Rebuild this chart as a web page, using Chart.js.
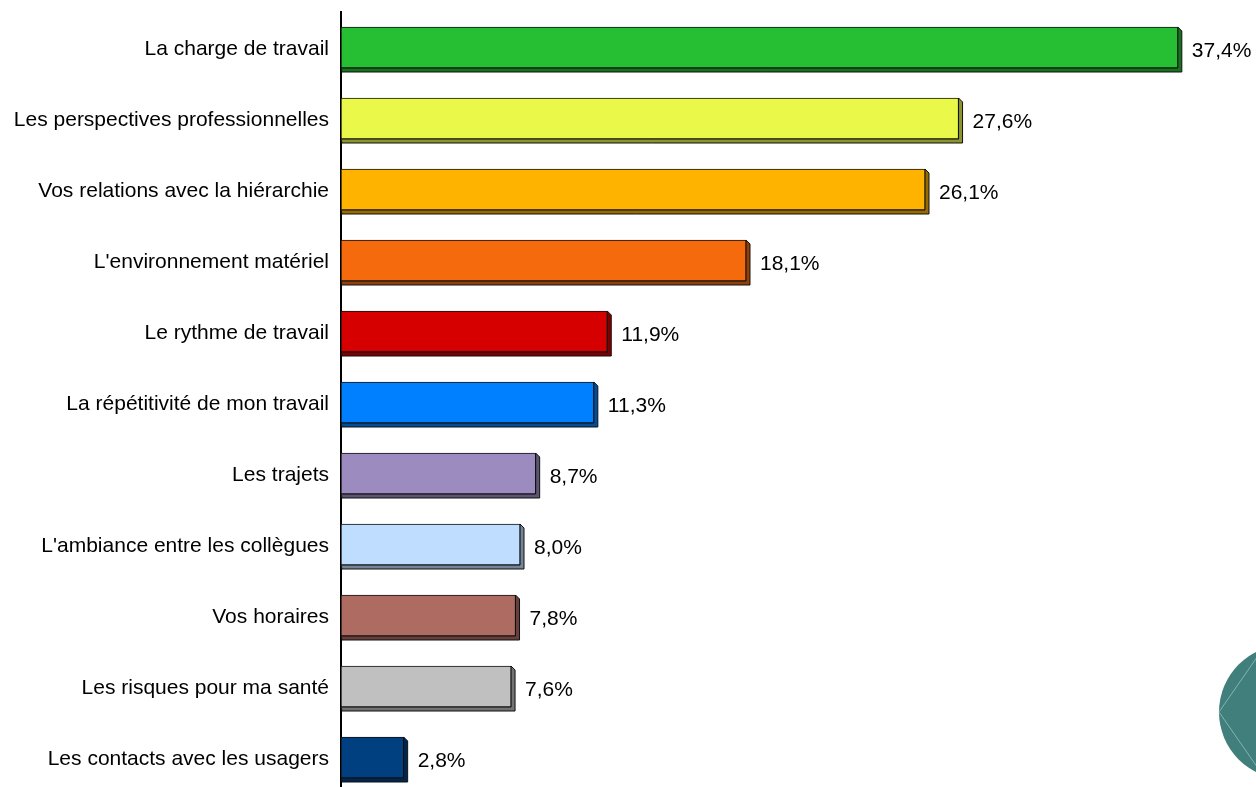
<!DOCTYPE html>
<html>
<head>
<meta charset="utf-8">
<script src="https://cdn.jsdelivr.net/npm/chart.js@4/dist/chart.umd.min.js"></script>
<style>
  html, body { margin:0; padding:0; background:#fff; overflow:hidden; }
</style>
</head>
<body>
<canvas id="chart" width="1256" height="793"></canvas>
<script>
const categories = [
  'La charge de travail',
  'Les perspectives professionnelles',
  'Vos relations avec la hiérarchie',
  "L'environnement matériel",
  'Le rythme de travail',
  'La répétitivité de mon travail',
  'Les trajets',
  "L'ambiance entre les collègues",
  'Vos horaires',
  'Les risques pour ma santé',
  'Les contacts avec les usagers'
];
const values = [37.4, 27.6, 26.1, 18.1, 11.9, 11.3, 8.7, 8.0, 7.8, 7.6, 2.8];
const barColors = [
  '#26BE32', '#EAF84A', '#FDB300', '#F46A0C', '#D60000', '#0080FF',
  '#9B8BBF', '#BFDEFF', '#AE6B62', '#C0C0C0', '#003F80'
];

const FONT = "'Liberation Sans', Arial, sans-serif";

function darker(hex, f) {
  const n = parseInt(hex.slice(1), 16);
  const r = Math.round(((n >> 16) & 255) * f);
  const g = Math.round(((n >> 8) & 255) * f);
  const b = Math.round((n & 255) * f);
  return 'rgb(' + r + ',' + g + ',' + b + ')';
}

// little 3D side/bottom faces behind each bar
const depthPlugin = {
  id: 'depth',
  beforeDatasetsDraw(chart) {
    const ctx = chart.ctx;
    const d = 4;
    chart.getDatasetMeta(0).data.forEach((bar, i) => {
      const x0 = bar.base, x1 = bar.x;
      const top = bar.y - bar.height / 2, bot = bar.y + bar.height / 2;
      ctx.save();
      ctx.beginPath();
      ctx.moveTo(x0, bot);
      ctx.lineTo(x1, bot);
      ctx.lineTo(x1, top);
      ctx.lineTo(x1 + d, top + d);
      ctx.lineTo(x1 + d, bot + d);
      ctx.lineTo(x0 + 1, bot + d);
      ctx.closePath();
      ctx.fillStyle = darker(barColors[i], 0.6);
      ctx.fill();
      ctx.strokeStyle = '#111';
      ctx.lineWidth = 1;
      ctx.stroke();
      ctx.restore();
    });
  },
  afterDatasetsDraw(chart) {
    const ctx = chart.ctx;
    ctx.save();
    ctx.font = '21px ' + FONT;
    ctx.fillStyle = '#000';
    ctx.textAlign = 'left';
    ctx.textBaseline = 'middle';
    chart.getDatasetMeta(0).data.forEach((bar, i) => {
      const txt = values[i].toFixed(1).replace('.', ',') + '%';
      ctx.fillText(txt, bar.x + 14, bar.y + 4);
    });
    ctx.restore();
  },
  afterDraw(chart) {
    // teal decoration bottom right
    const ctx = chart.ctx;
    const cx = 1286, cy = 712, r = 67;
    ctx.save();
    ctx.beginPath();
    ctx.arc(cx, cy, r, 0, Math.PI * 2);
    ctx.fillStyle = '#417F7C';
    ctx.fill();
    ctx.beginPath();
    ctx.moveTo(1262, 650);
    ctx.lineTo(cx - r, cy);
    ctx.lineTo(1262, 774);
    ctx.strokeStyle = '#86B3AF';
    ctx.lineWidth = 1;
    ctx.stroke();
    ctx.restore();
  }
};

new Chart(document.getElementById('chart'), {
  type: 'bar',
  data: {
    labels: categories,
    datasets: [{
      data: values,
      backgroundColor: barColors,
      borderColor: '#111',
      borderWidth: 1,
      borderSkipped: false,
      barThickness: 41
    }]
  },
  options: {
    indexAxis: 'y',
    responsive: false,
    animation: false,
    devicePixelRatio: 1,
    layout: { padding: { top: 12, right: 20, bottom: 0, left: 0 } },
    plugins: {
      legend: { display: false },
      tooltip: { enabled: false }
    },
    scales: {
      x: { display: false, min: 0, max: 40 },
      y: {
        grid: { display: false, drawTicks: false },
        border: { display: true, color: '#000', width: 2 },
        ticks: { color: '#000', padding: 12, labelOffset: 2, font: { family: FONT, size: 21 } },
        afterFit(scale) {
          scale.width = 341;
          scale.paddingTop = 0;
          scale.paddingBottom = 0;
        }
      }
    }
  },
  plugins: [depthPlugin]
});
</script>
</body>
</html>
